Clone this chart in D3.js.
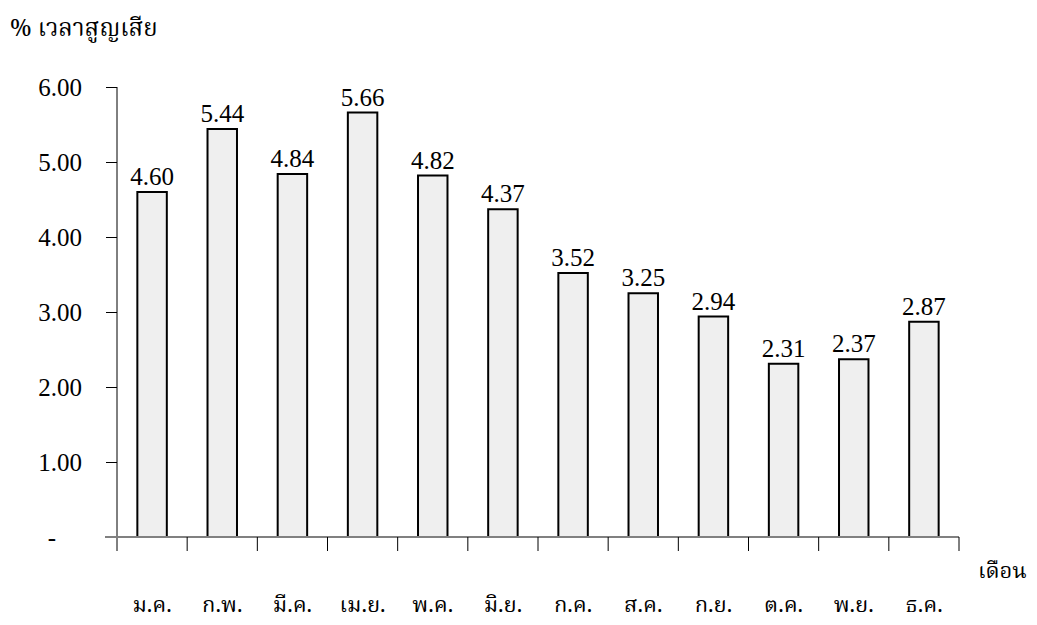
<!DOCTYPE html>
<html>
<head>
<meta charset="utf-8">
<script src="https://cdn.jsdelivr.net/npm/d3@7"></script>
<style>
  html, body { margin: 0; padding: 0; background: #fff; }
  svg { display: block; }
  .thai { font-family: "Norasi", "Kinnari", "Noto Serif Thai", "Noto Sans Thai", serif; }
  .num { font-family: "Liberation Serif", "Times New Roman", serif; }
</style>
</head>
<body>
<svg id="chart" width="1037" height="625"></svg>
<script>
// Monthly lost-time percentage
const months = ["ม.ค.", "ก.พ.", "มี.ค.", "เม.ย.", "พ.ค.", "มิ.ย.", "ก.ค.", "ส.ค.", "ก.ย.", "ต.ค.", "พ.ย.", "ธ.ค."];
const lostTime = [4.60, 5.44, 4.84, 5.66, 4.82, 4.37, 3.52, 3.25, 2.94, 2.31, 2.37, 2.87];
const yTicks = [0, 1, 2, 3, 4, 5, 6];
const yTickLabels = ["-", "1.00", "2.00", "3.00", "4.00", "5.00", "6.00"];
const yTitle = "% เวลาสูญเสีย";
const xTitle = "เดือน";

const svg = d3.select("#chart");

const x0 = 117, x1 = 959, yTop = 87, yBase = 537;

const x = d3.scaleBand().domain(months).range([x0, x1]).paddingInner(0.58).paddingOuter(0.29);
const y = d3.scaleLinear().domain([0, 6]).range([yBase, yTop]);
const step = x.step();

// bars
svg.append("g").selectAll("rect").data(lostTime).join("rect")
  .attr("x", (d, i) => x(months[i]))
  .attr("y", d => y(d))
  .attr("width", x.bandwidth())
  .attr("height", d => y(0) - y(d))
  .attr("fill", "#efefef")
  .attr("stroke", "#000")
  .attr("stroke-width", 2);

// value labels
svg.append("g").attr("class", "num").selectAll("text").data(lostTime).join("text")
  .attr("x", (d, i) => x(months[i]) + x.bandwidth() / 2)
  .attr("y", d => y(d) - 7)
  .attr("text-anchor", "middle")
  .attr("font-size", 25)
  .attr("fill", "#000")
  .text(d => d.toFixed(2));

// y axis
const yAxis = svg.append("g").attr("transform", `translate(${x0},0)`)
  .call(d3.axisLeft(y).tickValues(yTicks).tickSize(11).tickPadding(24)
    .tickFormat((d, i) => yTickLabels[i]));
yAxis.select(".domain").remove();
yAxis.selectAll(".tick line").attr("stroke", "#000");
yAxis.selectAll(".tick text").attr("class", "num").attr("font-size", 25).attr("fill", "#000");
yAxis.selectAll(".tick").filter(d => d === 0).select("text").attr("dx", -26);
yAxis.selectAll(".tick").filter(d => d === 0).select("line").remove();
svg.append("line").attr("x1", x0).attr("x2", x0).attr("y1", yTop).attr("y2", yBase + 14)
  .attr("stroke", "#000").attr("stroke-width", 1);

// x axis baseline and category separators
svg.append("line").attr("x1", x0 - 12).attr("x2", x1).attr("y1", yBase).attr("y2", yBase)
  .attr("stroke", "#808080").attr("stroke-width", 2);
svg.append("g").selectAll("line").data(d3.range(1, months.length + 1)).join("line")
  .attr("x1", i => x0 + i * step).attr("x2", i => x0 + i * step)
  .attr("y1", yBase).attr("y2", yBase + 14)
  .attr("stroke", "#000").attr("stroke-width", 1);

// month labels
svg.append("g").attr("class", "thai").selectAll("text").data(months).join("text")
  .attr("x", d => x(d) + x.bandwidth() / 2)
  .attr("y", 612)
  .attr("text-anchor", "middle")
  .attr("font-size", 22)
  .attr("fill", "#000")
  .text(d => d);

// axis titles
svg.append("text").attr("class", "thai").attr("x", 10).attr("y", 36)
  .attr("font-size", 24).attr("fill", "#000").text(yTitle);
svg.append("text").attr("class", "thai").attr("x", 978).attr("y", 578)
  .attr("font-size", 22).attr("fill", "#000").text(xTitle);
</script>
</body>
</html>
